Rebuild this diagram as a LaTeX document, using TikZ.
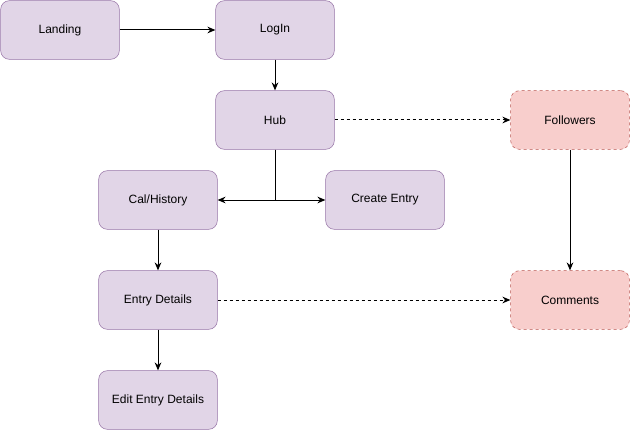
\documentclass[tikz,border=0pt]{standalone}
\usepackage{fontspec}
\setmainfont{Liberation Sans}
\usepackage{tikz}
\usetikzlibrary{arrows.meta}

\definecolor{pagefill}{HTML}{E1D5E7}
\definecolor{pageline}{HTML}{9673A6}
\definecolor{socialfill}{HTML}{F8CECC}
\definecolor{socialline}{HTML}{B85450}

\begin{document}
\begin{tikzpicture}[x=0.75pt, y=-0.75pt,
        page/.style={draw=pageline, fill=pagefill, rounded corners=6.5pt,
                     minimum width=89pt, minimum height=44pt, font=\fontsize{9}{11}\selectfont},
        social/.style={page, draw=socialline, fill=socialfill, dash pattern=on 2.25pt off 2.25pt},
        flow/.style={-{Stealth[length=6pt, width=5pt]}, line width=0.75pt},
        weak/.style={flow, dash pattern=on 2.25pt off 2.25pt}]
                \useasboundingbox (0, 0) rectangle (631, 431);
                \node[page] (landing) at (60, 30) {Landing};
                \node[page] (login) at (275, 30) {LogIn};
                \node[page] (hub) at (275, 120) {Hub};
                \node[social] (followers) at (570, 120) {Followers};
                \node[page] (history) at (158, 200) {Cal/History};
                \node[page] (create) at (385, 200) {Create Entry};
                \node[page] (details) at (158, 300) {Entry Details};
                \node[social] (comments) at (570, 300) {Comments};
                \node[page] (edit) at (158, 400) {Edit Entry Details};
                \draw[flow] (landing) -- (login);
                \draw[flow] (login) -- (hub);
                \draw[flow] (hub.south) |- (history.east);
                \draw[flow] (hub.south) |- (create.west);
                \draw[weak] (hub) -- (followers);
                \draw[flow] (followers) -- (comments);
                \draw[flow] (history) -- (details);
                \draw[weak] (details) -- (comments);
                \draw[flow] (details) -- (edit);
            \end{tikzpicture}
\end{document}
